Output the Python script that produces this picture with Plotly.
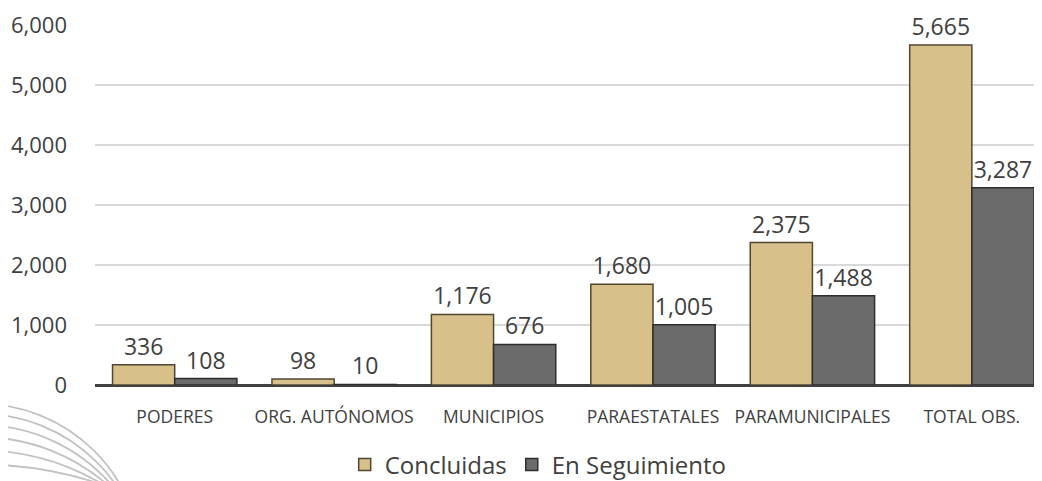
import plotly.graph_objects as go

categories = ["PODERES", "ORG. AUTÓNOMOS", "MUNICIPIOS", "PARAESTATALES", "PARAMUNICIPALES", "TOTAL OBS."]
concluidas = [336, 98, 1176, 1680, 2375, 5665]
seguimiento = [108, 10, 676, 1005, 1488, 3287]
y_ticks = [0, 1000, 2000, 3000, 4000, 5000, 6000]

font = "Open Sans"
txt = "#404040"

# layout geometry (page has an 8px body offset)
W, H = 1034, 473
ML, MT, MB = 87, 17, 96
PW, PH = W - ML, H - MT - MB

fig = go.Figure()
fig.add_trace(go.Bar(
    name="Concluidas", x=categories, y=concluidas,
    marker=dict(color="#d7c08a", line=dict(color="#4f4634", width=1.5)),
    text=[f"{v:,}" for v in concluidas], textposition="outside",
    textfont=dict(family=font, size=23, color=txt), cliponaxis=False,
))
fig.add_trace(go.Bar(
    name="En Seguimiento", x=categories, y=seguimiento,
    marker=dict(color="#6b6b6b", line=dict(color="#2e2e2e", width=1.5)),
    text=[f"{v:,}" for v in seguimiento], textposition="outside",
    textfont=dict(family=font, size=23, color=txt), cliponaxis=False,
))

# decorative faint arcs in bottom-left corner (page pixel geometry -> paper coords)
def px_to_paper(px, py):
    fx, fy = px - 8, py - 8
    return (fx - ML) / PW, (MT + PH - fy) / PH

shapes = []
cx = -20.0
for y_start, x_end in [(405, 118), (415, 113), (426, 108), (438, 103), (451, 97), (465, 91)]:
    # circle through (0, y_start) and (x_end, 481) with centre x = cx
    a = (x_end - cx) ** 2 - cx ** 2 + 481 ** 2 - y_start ** 2
    cy = a / (2 * (481 - y_start))
    r = (cx ** 2 + (cy - y_start) ** 2) ** 0.5
    x0, y0 = px_to_paper(cx - r, cy + r)
    x1, y1 = px_to_paper(cx + r, cy - r)
    shapes.append(dict(type="circle", xref="paper", yref="paper", x0=x0, y0=y0, x1=x1, y1=y1,
                       line=dict(color="#c2c2c2", width=1.8), layer="below"))

fig.update_layout(
    width=W, height=H,
    margin=dict(l=ML, r=0, t=MT, b=MB, autoexpand=False),
    paper_bgcolor="white", plot_bgcolor="white",
    barmode="group", bargap=0.22, bargroupgap=0,
    font=dict(family=font, color=txt),
    showlegend=True,
    legend=dict(orientation="h", x=0.468, xanchor="center", y=-0.222, yanchor="middle",
                font=dict(family=font, size=24, color=txt), itemwidth=30,
                traceorder="normal"),
    shapes=shapes,
)
fig.update_xaxes(
    range=[-0.5, 5.44], showgrid=False, showline=False, ticks="",
    tickfont=dict(family=font, size=17.5, color=txt), ticklabelstandoff=19,
)
fig.update_yaxes(
    range=[0, 6000], tickvals=y_ticks, tickformat=",", showgrid=True,
    gridcolor="#d9d9d9", gridwidth=1.5, zeroline=True, zerolinecolor="#404040",
    zerolinewidth=3, showline=False, ticks="",
    tickfont=dict(family=font, size=22, color=txt), ticklabelstandoff=27,
)

fig.write_html("out.html")
